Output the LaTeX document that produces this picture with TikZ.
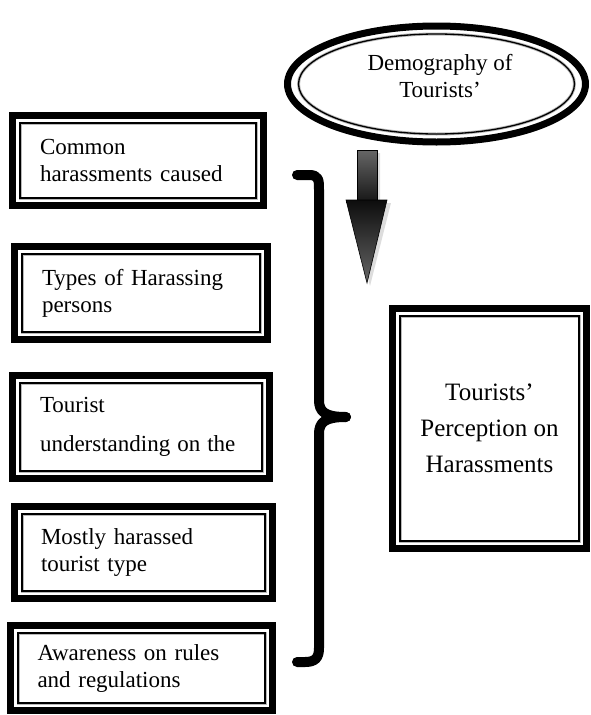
\documentclass[tikz,border=0pt]{standalone}
\usepackage{fontspec}
\setmainfont{Liberation Serif}
\usetikzlibrary{shapes.geometric}
\begin{document}
\begin{tikzpicture}[x=1pt,y=-1pt,
  boxouter/.style={draw=black,line width=7pt,rectangle,outer sep=0pt,inner sep=0pt,
    align=left,font=\fontsize{23}{27}\selectfont},
  innerline/.style={draw=black,line width=1.3pt},
  halo/.style={draw=gray!55,line width=3pt},
  brace/.style={line width=10pt,line cap=round,line join=round},
  txt/.style={font=\fontsize{23}{27}\selectfont,align=center}
]
\useasboundingbox (0,0) rectangle (591,715);

% ---- ellipse
\node[ellipse,draw=black,line width=7pt,minimum width=298,minimum height=116,inner sep=0pt,outer sep=0pt]
  (demo) at (436.5,84) {};
\draw[halo] (demo.center) ellipse [x radius=138, y radius=50];
\draw[innerline] (demo.center) ellipse [x radius=138, y radius=50];
\node[txt] (demotxt) at (440,76) {Demography of\\Tourists'};

% ---- left boxes
\node[boxouter,minimum width=251,minimum height=90,text width=196] (b1) at (138,160.5)
  {Common\\harassments caused};
\node[boxouter,minimum width=253,minimum height=93,text width=198] (b2) at (141,293)
  {Types of Harassing\\persons};
\node[boxouter,minimum width=257,minimum height=103,text width=202] (b3) at (141,427)
  {Tourist\\[12pt]\mbox{understanding\hspace{7pt}on\hspace{7pt}the}};
\node[boxouter,minimum width=258,minimum height=92,text width=205] (b4) at (143.5,552.5)
  {Mostly harassed\\tourist type};
\node[boxouter,minimum width=262,minimum height=85,text width=208] (b5) at (141.5,668)
  {Awareness on rules\\and regulations};

% ---- right box
\node[boxouter,minimum width=194,minimum height=240,align=center,
  font=\fontsize{25}{36}\selectfont] (res) at (489.5,428.5)
  {Tourists'\\Perception on\\Harassments};

% inner thin lines of boxes
\foreach \n in {b1,b2,b3,b4,b5,res}{
  \draw[halo] ([xshift=7.5pt,yshift=-7.5pt]\n.north west) rectangle ([xshift=-7.5pt,yshift=7.5pt]\n.south east);
  \draw[innerline] ([xshift=7.5pt,yshift=-7.5pt]\n.north west) rectangle ([xshift=-7.5pt,yshift=7.5pt]\n.south east);
}

% ---- arrow
\coordinate (atop) at (367,150);
\coordinate (atip) at (367,283);
\fill[gray!45,opacity=0.6] ([xshift=3pt,yshift=-3pt]atop) ++(-10,0) -- ++(20,0) -- ++(0,50) -- ++(11,0)
  -- ([xshift=3pt,yshift=-3pt]atip) -- ++(-21,-83) -- ++(11,0) -- cycle;
\shade[top color=black!60,bottom color=black!90,draw=black,line width=0.6pt]
  (atop) ++(-10,0) -- ++(20,0) -- ++(0,50) -- ++(-20,0) -- cycle;
\shade[top color=black!95,bottom color=black!60,draw=black,line width=0.6pt]
  (367,200) ++(-21,0) -- ++(41,0) -- (atip) -- cycle;

% ---- brace
\coordinate (bt) at (297,175);
\coordinate (bm) at (346,417);
\coordinate (bb) at (297,662);
\draw[brace] (bt) -- (309,175) .. controls (319,175) and (319,180) .. (319,190)
  -- (319,400) .. controls (319,412) and (325,417) .. (bm);
\draw[brace] (bm) .. controls (325,417) and (319,422) .. (319,434)
  -- (319,648) .. controls (319,658) and (315,662) .. (305,662) -- (bb);
\end{tikzpicture}
\end{document}
